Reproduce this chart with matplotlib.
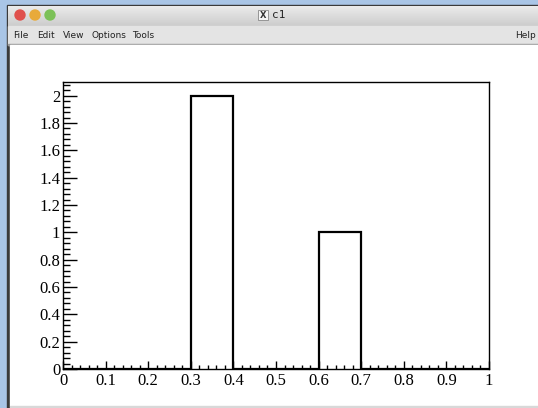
import numpy as np
import matplotlib
matplotlib.use("Agg")
import matplotlib.pyplot as plt
from matplotlib.patches import Rectangle, Circle
from matplotlib.ticker import MultipleLocator

# histogram data (10 bins from 0 to 1)
bin_edges = [0.0, 0.1, 0.2, 0.3, 0.4, 0.5, 0.6, 0.7, 0.8, 0.9, 1.0]
counts = [0, 0, 0, 2, 0, 0, 1, 0, 0, 0]

window_title = "c1"
menu_items = ["File", "Edit", "View", "Options", "Tools"]
menu_x = [13, 37, 63, 92, 132]

W, H = 538, 408
fig = plt.figure(figsize=(W / 100, H / 100), dpi=100)

# --- window chrome, drawn in pixel coordinates ---
bg = fig.add_axes([0, 0, 1, 1])
bg.set_xlim(0, W)
bg.set_ylim(H, 0)
bg.axis("off")
bg.add_patch(Rectangle((0, 0), W, H, color="#a9c5e6"))
bg.add_patch(Rectangle((7, 5), W, H, color="#3a3a3a"))
# title bar with a soft gradient
grad = np.linspace(0.92, 0.80, 50).reshape(-1, 1)
bg.imshow(grad, extent=(8, W, 26, 6), cmap="gray", vmin=0, vmax=1,
          aspect="auto", zorder=1)
bg.add_patch(Rectangle((8, 26), W, 19, color="#e4e4e4", zorder=1))
bg.add_patch(Rectangle((8, 43.5), W, 1, color="#9a9a9a", zorder=1))
bg.add_patch(Rectangle((10, 45), W, 361, color="white", zorder=1))
bg.add_patch(Rectangle((10, 406), W, 2, color="#d8d8d8", zorder=1))
for cx, col in zip([20, 35, 50], ["#e0504c", "#e8aa3a", "#7cc158"]):
    bg.add_patch(Circle((cx, 15), 5, color=col, zorder=2))
bg.add_patch(Rectangle((258, 10), 10, 10, facecolor="#f4f4f4",
                       edgecolor="#888888", lw=0.6, zorder=2))
bg.text(263, 15.5, "X", fontsize=6, ha="center", va="center",
        fontweight="bold", color="#333333", zorder=3)
bg.text(272, 15.5, window_title, fontsize=8, ha="left", va="center",
        fontfamily="DejaVu Sans Mono", color="#222222", zorder=3)
for name, x in zip(menu_items, menu_x):
    bg.text(x, 35.5, name, fontsize=6.5, ha="left", va="center",
            color="#222222", zorder=3)
bg.text(536, 35.5, "Help", fontsize=6.5, ha="right", va="center",
        color="#222222", zorder=3)

# --- ROOT style histogram frame ---
left, right, top, bottom = 63, 489, 82, 369
ax = fig.add_axes([left / W, (H - bottom) / H,
                   (right - left) / W, (bottom - top) / H])
ax.stairs(counts, bin_edges, color="black", lw=1.6)
ax.set_xlim(0, 1)
ax.set_ylim(0, 2.1)

ax.xaxis.set_major_locator(MultipleLocator(0.1))
ax.xaxis.set_minor_locator(MultipleLocator(0.02))
ax.yaxis.set_major_locator(MultipleLocator(0.2))
ax.yaxis.set_minor_locator(MultipleLocator(0.04))
ax.set_xticks([0, 0.1, 0.2, 0.3, 0.4, 0.5, 0.6, 0.7, 0.8, 0.9, 1])
ax.set_xticklabels(["0", "0.1", "0.2", "0.3", "0.4", "0.5", "0.6",
                    "0.7", "0.8", "0.9", "1"])
ax.set_yticks([0, 0.2, 0.4, 0.6, 0.8, 1, 1.2, 1.4, 1.6, 1.8, 2])
ax.set_yticklabels(["0", "0.2", "0.4", "0.6", "0.8", "1", "1.2",
                    "1.4", "1.6", "1.8", "2"])

ax.tick_params(axis="x", which="major", direction="in", length=6,
               width=1, pad=3)
ax.tick_params(axis="x", which="minor", direction="in", length=3, width=1)
ax.tick_params(axis="y", which="major", direction="in", length=10,
               width=1, pad=2)
ax.tick_params(axis="y", which="minor", direction="in", length=5, width=1)
for lab in ax.get_xticklabels() + ax.get_yticklabels():
    lab.set_fontfamily("Liberation Serif")
    lab.set_fontsize(12)
for sp in ax.spines.values():
    sp.set_linewidth(1)

fig.savefig("out.png", dpi=100)
